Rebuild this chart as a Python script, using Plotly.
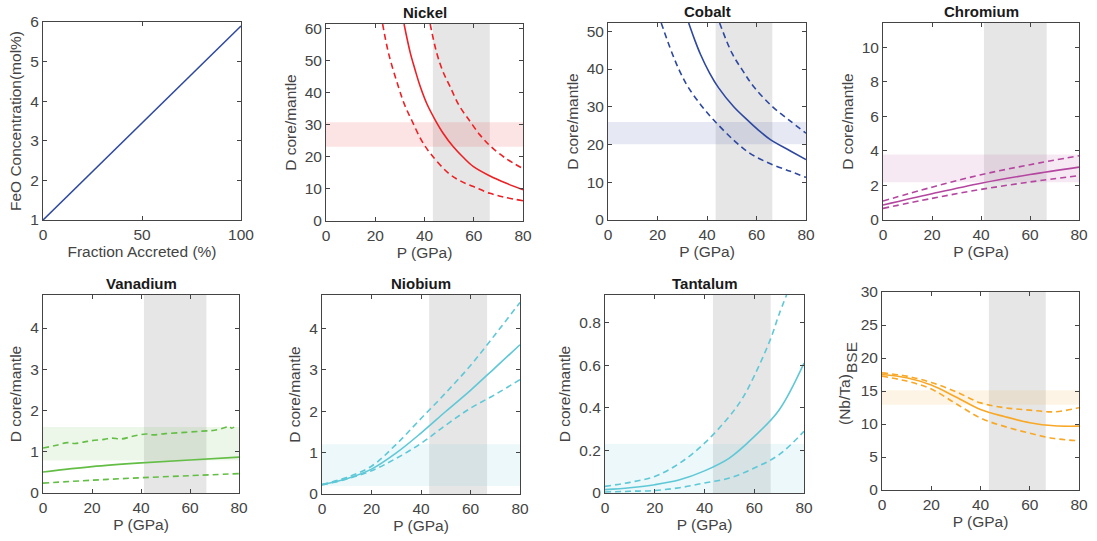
import plotly.graph_objects as go

# ---------------- data ----------------
feo_x = [0, 100]
feo_y = [1.0, 5.9]

ni_mid_P = [31.7, 34.2, 36.2, 38.2, 41.0, 44.3, 47.5, 51.7, 55.5, 59.9, 66.6, 73.0, 80]
ni_mid_D = [61.3, 52.4, 47.0, 42.0, 36.4, 31.5, 27.4, 23.1, 20.0, 16.9, 14.0, 11.8, 9.7]
ni_lo_P = [23.0, 25.4, 29.4, 32.0, 34.9, 38.5, 42.3, 49.7, 54.5, 59.9, 66.6, 73.0, 80]
ni_lo_D = [61.3, 52.2, 41.8, 36.0, 31.2, 25.5, 21.1, 14.9, 12.5, 10.7, 8.6, 7.3, 6.3]
ni_hi_P = [42.3, 45.0, 47.5, 50.4, 54.0, 58.5, 62.5, 66.6, 73.0, 80]
ni_hi_D = [61.3, 52.2, 46.5, 41.8, 36.0, 31.0, 26.8, 23.4, 19.5, 16.3]

co_mid_P = [32.6, 35.0, 37.3, 41.0, 44.7, 50.8, 56.8, 61.0, 65.6, 73.7, 80]
co_mid_D = [52.2, 47.8, 44.0, 39.0, 35.0, 30.0, 26.2, 23.7, 21.3, 18.3, 16.0]
co_lo_P = [21.5, 25.9, 29.0, 32.2, 37.5, 42.7, 50.7, 57.5, 65.6, 73.7, 80]
co_lo_D = [52.2, 44.2, 39.4, 35.4, 30.5, 26.5, 21.2, 17.6, 14.9, 12.9, 11.3]
co_hi_P = [45.1, 50.1, 54.5, 58.8, 66.3, 73.7, 80]
co_hi_D = [52.2, 44.2, 39.5, 35.4, 30.1, 26.2, 23.0]

cr_P = [0, 20, 40, 60, 80]
cr_mid = [0.87, 1.52, 2.13, 2.63, 3.06]
cr_hi = [1.10, 1.90, 2.62, 3.20, 3.72]
cr_lo = [0.67, 1.25, 1.77, 2.20, 2.57]

v_P = [0, 20, 40, 60, 80]
v_mid = [0.51, 0.64, 0.73, 0.80, 0.87]
v_lo = [0.24, 0.31, 0.37, 0.42, 0.47]
v_hi_P = [0, 5, 10, 13, 17, 20, 25, 28, 32, 37, 42, 45, 50, 58, 65, 70, 74, 76, 77, 78]
v_hi = [1.09, 1.15, 1.22, 1.20, 1.24, 1.27, 1.30, 1.33, 1.31, 1.38, 1.43, 1.41, 1.44, 1.47, 1.50, 1.52, 1.58, 1.62, 1.57, 1.60]

nb_P = [0, 10, 20, 30, 40, 50, 60, 70, 80]
nb_mid = [0.23, 0.37, 0.60, 0.99, 1.47, 1.99, 2.50, 3.05, 3.60]
nb_hi = [0.23, 0.40, 0.67, 1.20, 1.82, 2.44, 3.10, 3.85, 4.62]
nb_lo = [0.22, 0.36, 0.56, 0.86, 1.22, 1.66, 2.07, 2.40, 2.76]

ta_P = [0, 10, 20, 30, 40, 50, 60, 70, 80]
ta_mid = [0.016, 0.025, 0.039, 0.062, 0.104, 0.164, 0.265, 0.39, 0.61]
ta_lo = [0.005, 0.008, 0.012, 0.025, 0.047, 0.070, 0.117, 0.18, 0.29]
ta_hi_P = [0, 10, 20, 30, 40, 50, 55, 60, 66.6, 70, 73]
ta_hi = [0.031, 0.050, 0.078, 0.14, 0.234, 0.36, 0.44, 0.55, 0.725, 0.84, 0.93]

nbta_P = [0, 10, 20, 30, 40, 50, 60, 70, 80]
nbta_mid = [17.5, 17.0, 15.9, 14.1, 12.2, 11.1, 10.2, 9.73, 9.68]
nbta_hi = [17.75, 17.25, 16.3, 14.9, 13.2, 12.46, 12.1, 11.85, 12.46]
nbta_lo = [17.25, 16.5, 15.3, 13.1, 10.9, 9.6, 8.6, 7.8, 7.46]

# constraint bands (y) and pressure bands (x)
titles = ["", "Nickel", "Cobalt", "Chromium", "Vanadium", "Niobium", "Tantalum", ""]
y_bands = [None, (23.1, 30.7), (20.1, 26.0), (2.19, 3.79), (0.79, 1.60), (0.19, 1.20), (0.0, 0.23), (12.9, 15.1)]
p_bands = [None, (43.4, 66.5), (43.5, 66.4), (41.2, 66.8), (41.2, 66.7), (43.3, 66.7), (43.4, 66.6), (43.4, 66.5)]

# ---------------- styling ----------------
boxes = [(43, 241, 22, 220), (326, 523, 24, 221), (608, 806, 23, 220), (883, 1079, 23, 220),
         (43, 239, 295, 493), (322, 520, 295, 494), (605, 804, 295, 493), (882, 1079, 292, 490)]
W, H = 1097, 541
RED = "rgb(237,32,36)"
BLUE = "rgb(46,72,160)"
MAG = "rgb(180,70,160)"
GRN = "rgb(100,190,70)"
CYN = "rgb(95,200,215)"
ORG = "rgb(248,168,38)"
band_cols = [None, "rgba(237,32,36,0.12)", "rgba(46,72,160,0.12)", "rgba(180,70,160,0.12)",
             "rgba(100,190,70,0.12)", "rgba(95,200,215,0.12)", "rgba(95,200,215,0.12)", "rgba(248,168,38,0.12)"]
AX = "#444444"
FONT = "Liberation Sans, Arial, sans-serif"
TICK_SIZE = 15.5
TITLE_SIZE = 15.5

fig = go.Figure()

def add(i, x, y, color, dash=None):
    s = "" if i == 1 else str(i)
    fig.add_trace(go.Scatter(x=x, y=y, mode="lines", xaxis="x" + s, yaxis="y" + s,
                             line=dict(color=color, width=1.6, dash=dash or "solid", shape="spline", smoothing=1.0),
                             showlegend=False, hoverinfo="skip"))

DASH = "6px,4px"
add(1, feo_x, feo_y, BLUE)
add(2, ni_lo_P, ni_lo_D, RED, DASH); add(2, ni_mid_P, ni_mid_D, RED); add(2, ni_hi_P, ni_hi_D, RED, DASH)
add(3, co_lo_P, co_lo_D, BLUE, DASH); add(3, co_mid_P, co_mid_D, BLUE); add(3, co_hi_P, co_hi_D, BLUE, DASH)
add(4, cr_P, cr_lo, MAG, DASH); add(4, cr_P, cr_mid, MAG); add(4, cr_P, cr_hi, MAG, DASH)
add(5, v_P, v_lo, GRN, DASH); add(5, v_P, v_mid, GRN); add(5, v_hi_P, v_hi, GRN, DASH)
add(6, nb_P, nb_lo, CYN, DASH); add(6, nb_P, nb_mid, CYN); add(6, nb_P, nb_hi, CYN, DASH)
add(7, ta_P, ta_lo, CYN, DASH); add(7, ta_P, ta_mid, CYN); add(7, ta_hi_P, ta_hi, CYN, DASH)
add(8, nbta_P, nbta_lo, ORG, DASH); add(8, nbta_P, nbta_mid, ORG); add(8, nbta_P, nbta_hi, ORG, DASH)

yranges = [[1, 6], [0, 61.3], [0, 52.2], [0, 11.4], [0, 4.8], [0, 4.8], [0, 0.93], [0, 30]]
ytickvals = [[1, 2, 3, 4, 5, 6], [0, 10, 20, 30, 40, 50, 60], [0, 10, 20, 30, 40, 50], [0, 2, 4, 6, 8, 10],
             [0, 1, 2, 3, 4], [0, 1, 2, 3, 4], [0, 0.2, 0.4, 0.6, 0.8], [0, 5, 10, 15, 20, 25, 30]]
yticktext = [None, None, None, None, None, None, ["0", "0.2", "0.4", "0.6", "0.8"], None]
ytitles = ["FeO Concentration(mol%)", "D core/mantle", "D core/mantle", "D core/mantle",
           "D core/mantle", "D core/mantle", "D core/mantle", ""]

layout = dict(width=W, height=H, autosize=False, margin=dict(l=0, r=0, t=0, b=0, autoexpand=False),
              paper_bgcolor="white", plot_bgcolor="white", font=dict(family=FONT, color=AX, size=14))
shapes = []
annotations = []
for i in range(1, 9):
    s = "" if i == 1 else str(i)
    l, r, t, b = boxes[i - 1]
    common = dict(showline=True, linecolor=AX, linewidth=1, mirror="ticks", ticks="inside", ticklen=4,
                  tickcolor=AX, tickfont=dict(size=TICK_SIZE, color=AX, family=FONT), showgrid=False,
                  zeroline=False, fixedrange=True, automargin=False)
    if i == 1:
        xa = dict(domain=[l / W, r / W], anchor="y" + s, range=[0, 100], tickvals=[0, 50, 100],
                  title=dict(text="Fraction Accreted (%)", standoff=2, font=dict(size=TITLE_SIZE, color=AX)), **common)
    else:
        xa = dict(domain=[l / W, r / W], anchor="y" + s, range=[0, 80], tickvals=[0, 20, 40, 60, 80],
                  title=dict(text="P (GPa)", standoff=2, font=dict(size=TITLE_SIZE, color=AX)), **common)
    ya = dict(domain=[1 - b / H, 1 - t / H], anchor="x" + s, range=yranges[i - 1], tickvals=ytickvals[i - 1],
              **common)
    if ytitles[i - 1]:
        ya["title"] = dict(text=ytitles[i - 1], standoff=4, font=dict(size=TITLE_SIZE, color=AX))
    if yticktext[i - 1]:
        ya["ticktext"] = yticktext[i - 1]
    layout["xaxis" + s] = xa
    layout["yaxis" + s] = ya
    if p_bands[i - 1]:
        p0, p1 = p_bands[i - 1]
        shapes.append(dict(type="rect", xref="x" + s, yref="y" + s + " domain", x0=p0, x1=p1, y0=0, y1=1,
                           fillcolor="rgb(230,230,230)", line=dict(width=0), layer="below"))
    if y_bands[i - 1]:
        y0, y1 = y_bands[i - 1]
        shapes.append(dict(type="rect", xref="x" + s + " domain", yref="y" + s, x0=0, x1=1, y0=y0, y1=y1,
                           fillcolor=band_cols[i - 1], line=dict(width=0), layer="below"))
    if titles[i - 1]:
        annotations.append(dict(text="<b>" + titles[i - 1] + "</b>", xref="x" + s + " domain",
                                yref="y" + s + " domain", x=0.5, y=1, yanchor="bottom", showarrow=False,
                                yshift=1, font=dict(size=15, color="#1a1a1a", family=FONT)))

# (Nb/Ta)_BSE label, drawn as two rotated pieces like the reference
annotations.append(dict(text="(Nb/Ta)", xref="paper", yref="paper", x=844 / W, y=1 - 400 / H,
                        textangle=-90, showarrow=False, xanchor="center", yanchor="middle",
                        font=dict(size=TITLE_SIZE, color=AX, family=FONT)))
annotations.append(dict(text="BSE", xref="paper", yref="paper", x=851 / W, y=1 - 358 / H,
                        textangle=-90, showarrow=False, xanchor="center", yanchor="middle",
                        font=dict(size=TITLE_SIZE, color=AX, family=FONT)))

layout["shapes"] = shapes
layout["annotations"] = annotations
fig.update_layout(**layout)
fig.write_html("out.html", config={"displayModeBar": False, "staticPlot": True},
               post_script="document.body.style.margin='0px';document.body.style.padding='0px';")
